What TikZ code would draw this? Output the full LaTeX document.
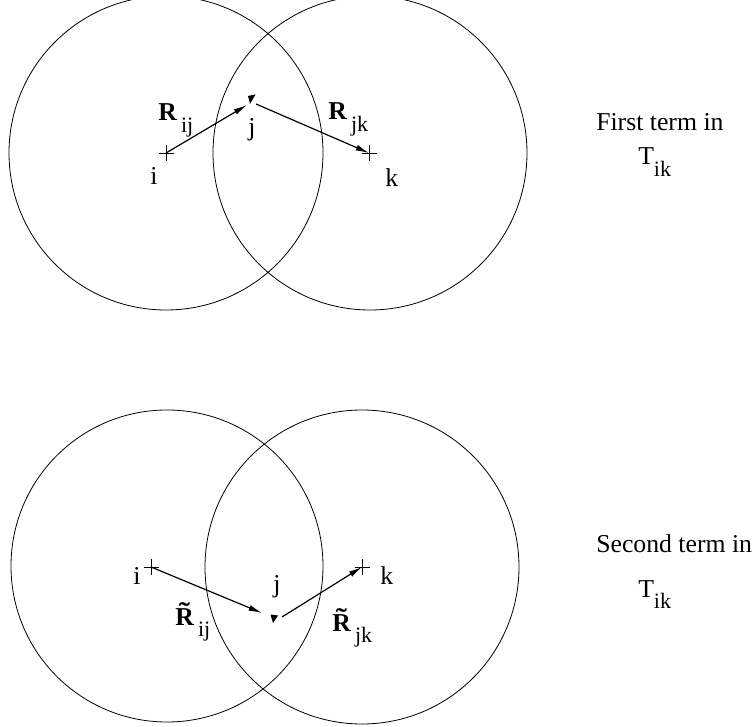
\documentclass[tikz,border=0pt]{standalone}
\usepackage{fontspec}
\setmainfont{Liberation Serif}
\usepackage{graphicx}
\usetikzlibrary{arrows.meta,calc}
\newcommand\lsub[2][8.5pt]{\raisebox{-#1}{\fontsize{16.5}{18}\selectfont #2}}
\newcommand\tlR{\makebox[0pt][l]{\makebox[0.722em]{\raisebox{0.17em}{\scalebox{1.3}[1]{\char"02DC}}}}R}
\begin{document}
\begin{tikzpicture}[x=0.75pt,y=-0.75pt,
  ring/.style={line width=0.6pt},
  vec/.style={line width=0.9pt,-{Latex[length=10pt,width=4.5pt]}},
  crossmark/.style={line width=0.6pt},
  blob/.style={fill=black,draw=none},
  lab/.style={inner sep=0pt,anchor=base west,font=\fontsize{19.3}{22}\selectfont}]
\path[use as bounding box] (0,0) rectangle (754,727);

% ---------- first term ----------
\coordinate (c1) at (166,153);
\coordinate (c2) at (370,153);
\draw[ring] (c1) circle[radius=157];
\draw[ring] (c2) circle[radius=157];
\coordinate (i1) at (166,153);
\coordinate (k1) at (369,153);
\coordinate (j1a) at (247,105);
\coordinate (j1b) at (256,104);
\draw[crossmark] ($(i1)+(-7.5,0)$) -- ($(i1)+(7.5,0)$) ($(i1)+(0,-8)$) -- ($(i1)+(0,8)$);
\draw[crossmark] ($(k1)+(-7.5,0)$) -- ($(k1)+(7.5,0)$) ($(k1)+(0,-8)$) -- ($(k1)+(0,8)$);
\fill[blob] (248,96) -- (255.5,94.5) -- (250,104) -- cycle;
\draw[vec] (i1) -- (j1a);
\draw[vec] (j1b) -- (k1);
\node[lab] (li1) at (150,185) {i};
\node[lab] (lk1) at (385,187) {k};
\node[lab] (lj1) at (248,136) {j};
\node[lab] (rij1) at (158,121) {\textbf{R}\hspace{3pt}\lsub{ij}};
\node[lab] (rjk1) at (328,120) {\textbf{R}\hspace{3pt}\lsub{jk}};
\node[lab] (t1) at (596,131) {First term in};
\node[lab] (tik1) at (638,165) {T\lsub[9pt]{ik}};

% ---------- second term ----------
\coordinate (c3) at (167,566);
\coordinate (c4) at (362,567);
\draw[ring] (c3) circle[radius=156];
\draw[ring] (c4) circle[radius=157];
\coordinate (i2) at (151,567);
\coordinate (k2) at (362,567);
\coordinate (j2a) at (262,613);
\coordinate (j2b) at (282,617);
\draw[crossmark] ($(i2)+(-7.5,0)$) -- ($(i2)+(7.5,0)$) ($(i2)+(0,-8)$) -- ($(i2)+(0,8)$);
\draw[crossmark] ($(k2)+(-7.5,0)$) -- ($(k2)+(7.5,0)$) ($(k2)+(0,-8)$) -- ($(k2)+(0,8)$);
\fill[blob] (270.5,614.5) -- (278,615.5) -- (273,623) -- cycle;
\draw[vec] (i2) -- (j2a);
\draw[vec] (j2b) -- (k2);
\node[lab] (li2) at (133,584) {i};
\node[lab] (lk2) at (380,584) {k};
\node[lab] (lj2) at (273,592) {j};
\node[lab] (rij2) at (175,625) {\textbf{\tlR}\hspace{3pt}\lsub{ij}};
\node[lab] (rjk2) at (332,631) {\textbf{\tlR}\hspace{3pt}\lsub{jk}};
\node[lab] (t2) at (596,552) {Second term in};
\node[lab] (tik2) at (638,597) {T\lsub[8.5pt]{ik}};
\end{tikzpicture}
\end{document}
